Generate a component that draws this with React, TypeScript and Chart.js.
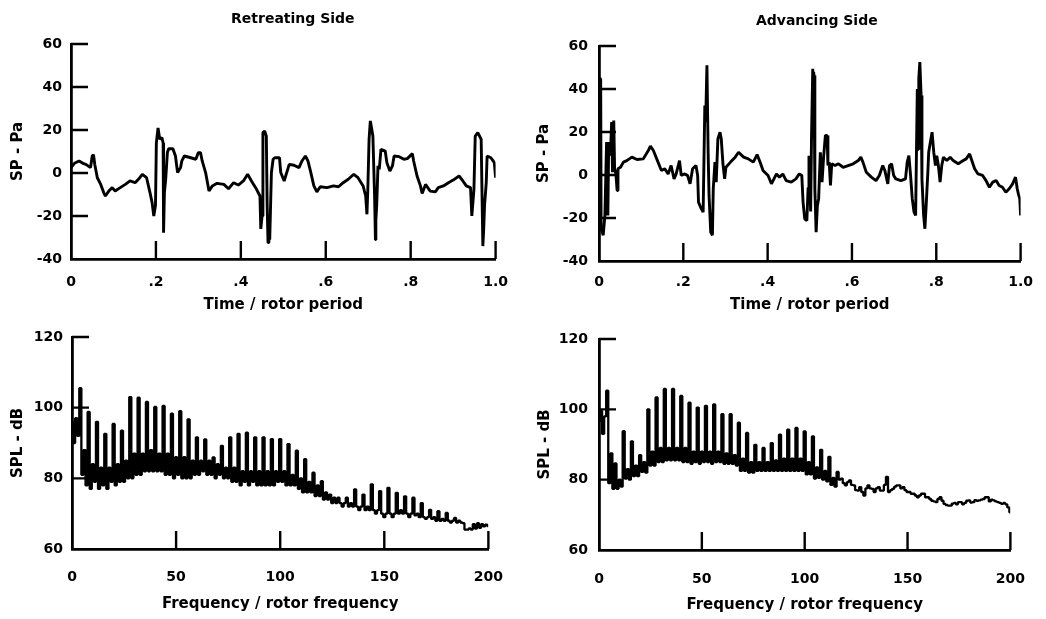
import { useEffect, useRef } from "react";
import { Chart, registerables } from "chart.js";

Chart.register(...registerables);

// ---------- text ----------
const retreatingTitle = "Retreating Side";
const advancingTitle = "Advancing Side";
const timeAxisTitle = "Time / rotor period";
const freqAxisTitle = "Frequency / rotor frequency";
const pressureAxisTitle = "SP - Pa";
const splAxisTitle = "SPL - dB";

// ---------- ticks ----------
const timeTickValues = [0, 0.2, 0.4, 0.6, 0.8, 1.0];
const timeTickLabels = ["0", ".2", ".4", ".6", ".8", "1.0"];
const pressureTickValues = [-40, -20, 0, 20, 40, 60];
const pressureTickLabels = ["-40", "-20", "0", "20", "40", "60"];
const freqTickValues = [0, 50, 100, 150, 200];
const freqTickLabels = ["0", "50", "100", "150", "200"];
const splTickValues = [60, 80, 100, 120];
const splTickLabels = ["60", "80", "100", "120"];

// inner tick marks drawn on the axes
const pressureMarks = [60, 40, 20, 0, -20];
const timeMarks = [0.2, 0.4, 0.6, 0.8, 1.0];
const splMarks = [120, 100, 80];
const freqMarks = [50, 100, 150, 200];

// ---------- data: time history [time / rotor period, SP (Pa)] ----------
const retreatingPressure: [number, number][] = [
  [0, 2.5], [0.008, 4.5], [0.019, 5.6], [0.028, 4.5], [0.035, 4], [0.046, 2.5],
  [0.05, 7.9], [0.053, 8.5], [0.056, 4], [0.062, -2.2], [0.07, -5.3], [0.077, -9.1],
  [0.081, -10.7], [0.089, -8.4], [0.097, -6.8], [0.104, -8.4], [0.116, -6.8], [0.128, -5.3],
  [0.139, -3.7], [0.151, -4.5], [0.162, -2.2], [0.168, -0.6], [0.178, -2.2], [0.186, -9.1],
  [0.191, -13.8], [0.195, -20], [0.199, -15], [0.201, 14], [0.205, 21], [0.209, 15.7],
  [0.214, 16.5], [0.217, 14], [0.218, -27.8], [0.22, -9], [0.223, -3], [0.227, 9.5],
  [0.23, 11.3], [0.24, 11.3], [0.246, 7.9], [0.251, 0.2], [0.258, 2.5], [0.261, 5.6],
  [0.267, 7.9], [0.282, 7.1], [0.294, 6.4], [0.3, 9.5], [0.305, 9.5], [0.309, 5.6],
  [0.317, 0.2], [0.325, -8.4], [0.333, -6], [0.344, -4.8], [0.36, -5.3], [0.371, -7.3],
  [0.383, -4.5], [0.394, -5.6], [0.406, -3.7], [0.416, -0.6], [0.425, -3.7], [0.437, -7.6],
  [0.445, -10.7], [0.447, -26], [0.45, -20], [0.452, 18.8], [0.456, 19.5], [0.46, 17.2],
  [0.462, -15], [0.464, -32.4], [0.466, -25], [0.468, -31], [0.472, 0.2], [0.476, 6.4],
  [0.48, 7.1], [0.491, 7.1], [0.494, 0.2], [0.502, -3.7], [0.514, 4], [0.525, 3.6],
  [0.537, 2.5], [0.544, 5.6], [0.552, 7.9], [0.558, 5.6], [0.564, 0.9], [0.572, -6],
  [0.579, -8.8], [0.587, -6.4], [0.603, -6.8], [0.618, -6], [0.63, -6.4], [0.641, -4.5],
  [0.653, -2.9], [0.666, -0.6], [0.676, -2.2], [0.688, -6], [0.694, -10.7], [0.697, -19.2],
  [0.699, -8], [0.702, 15.7], [0.705, 24.2], [0.711, 17.2], [0.715, -10.7], [0.717, -31],
  [0.718, -22], [0.72, -15], [0.723, 3.3], [0.726, 1.7], [0.73, 11], [0.74, 10.2],
  [0.744, 4.8], [0.751, 0.9], [0.757, 3.3], [0.761, 7.9], [0.773, 7.6], [0.784, 6.4],
  [0.792, 6.7], [0.804, 9], [0.807, 5.6], [0.815, -1.4], [0.823, -6], [0.827, -9.5],
  [0.835, -5.3], [0.846, -8.4], [0.858, -8.8], [0.865, -6.8], [0.877, -6], [0.889, -4.5],
  [0.9, -3.3], [0.914, -1.4], [0.923, -3.7], [0.931, -6], [0.941, -6.8], [0.944, -20],
  [0.949, -7.6], [0.952, 17.2], [0.958, 18.8], [0.966, 15.7], [0.97, -34], [0.972, -26],
  [0.974, -15], [0.978, -4.5], [0.98, 7.9], [0.989, 7.1], [0.997, 4.8], [1.0, -2.2],
];

const advancingPressure: [number, number][] = [
  [0, 45], [0.004, 44.7], [0.005, -25], [0.01, -28], [0.014, -18.8], [0.018, 15.3],
  [0.021, -18.8], [0.023, 15.3], [0.027, 9], [0.03, 24.6], [0.032, 1.3], [0.035, 25.3],
  [0.037, 2.9], [0.04, 0.5], [0.043, -7.2], [0.045, 2.9], [0.051, 3.6], [0.058, 6],
  [0.066, 6.7], [0.078, 8.3], [0.09, 7.2], [0.105, 7.5], [0.117, 11.4], [0.122, 13.4],
  [0.129, 11.4], [0.14, 6], [0.148, 2.1], [0.156, 2.9], [0.164, 0.5], [0.171, 4.4],
  [0.178, -1.8], [0.183, 0.5], [0.191, 6.7], [0.195, -0.2], [0.202, 0.5], [0.21, -0.2],
  [0.216, -4.1], [0.222, 2.9], [0.23, 4.4], [0.234, -0.2], [0.236, -12.6], [0.241, -15],
  [0.247, -17.3], [0.251, 32.3], [0.253, 24.6], [0.256, 51], [0.259, 9], [0.261, -9.5],
  [0.265, -26.6], [0.269, -28], [0.271, -6.4], [0.275, 6], [0.278, -3.3], [0.282, 16.8],
  [0.287, 19.9], [0.29, 16.8], [0.294, 5.2], [0.298, -1.8], [0.301, 3.6], [0.312, 6],
  [0.323, 8.3], [0.331, 10.6], [0.343, 8.3], [0.354, 7.5], [0.366, 6], [0.375, 9.5],
  [0.382, 6], [0.389, 2.1], [0.401, -0.2], [0.409, -4.1], [0.421, 0.5], [0.428, -1],
  [0.436, 0.5], [0.444, -2.6], [0.456, -3.3], [0.467, -1.8], [0.475, 0.5], [0.481, -0.2],
  [0.484, -12.6], [0.488, -20.4], [0.493, -21.2], [0.496, -6], [0.498, 9], [0.502, -17],
  [0.504, 16.8], [0.507, 49.4], [0.508, 20], [0.509, 48], [0.51, 46.3], [0.512, -6.4],
  [0.515, -26.6], [0.518, -14.2], [0.521, -11], [0.525, 10.6], [0.529, -3.3], [0.533, 9],
  [0.537, 18.4], [0.541, 18.4], [0.543, 4.4], [0.546, 6], [0.549, -4.9], [0.552, 5.2],
  [0.56, 4.4], [0.568, 5.2], [0.579, 3.6], [0.591, 4.4], [0.603, 5.2], [0.615, 6.7],
  [0.621, 8.3], [0.626, 6], [0.634, 1.3], [0.646, -1], [0.657, -2.6], [0.665, -0.2],
  [0.673, 4.4], [0.678, 2.1], [0.685, -4.1], [0.689, 4.4], [0.694, 5.2], [0.699, -0.2],
  [0.704, -1.8], [0.716, -2.6], [0.727, -1.8], [0.731, 6], [0.735, 9], [0.739, -0.2],
  [0.743, -11], [0.747, -17], [0.751, -18.8], [0.755, 40], [0.757, 12], [0.758, 42],
  [0.759, 44.7], [0.761, 52.5], [0.764, 37], [0.766, -2], [0.77, -18.8], [0.773, -25],
  [0.776, -14.2], [0.78, 1.3], [0.782, 10.6], [0.786, 15.3], [0.79, 19.9], [0.794, 10.6],
  [0.798, 4.4], [0.801, 9], [0.805, 4.4], [0.809, -3.3], [0.813, 4.4], [0.817, 8.3],
  [0.825, 6.7], [0.833, 8.3], [0.84, 6.7], [0.852, 5.2], [0.864, 6.7], [0.871, 7.5],
  [0.879, 9.8], [0.891, 2.9], [0.899, 0.5], [0.91, -0.2], [0.918, -2.6], [0.926, -5.7],
  [0.934, -3.3], [0.942, -2.6], [0.949, -4.9], [0.957, -5.7], [0.965, -8], [0.973, -6.4],
  [0.981, -4.1], [0.988, -1], [0.992, -6.4], [0.995, -9], [0.998, -11], [1.0, -18.8],
];

// ---------- data: spectra, SPL (dB) at harmonics 0..200 of rotor frequency ----------
const retreatingSpl: number[] = [
  96, 90, 97, 92,
  105.5, 81, 88, 78,
  98.8, 77, 84, 79,
  96, 77, 83, 78,
  92.6, 77, 83, 79,
  95.4, 78, 84, 79,
  93.5, 79, 85, 80,
  103, 80, 87, 81,
  102.8, 81, 87, 82,
  101.6, 82, 88, 82,
  100.2, 82, 87, 82,
  100.5, 81, 87, 81,
  98.3, 80, 86, 81,
  99, 80, 86, 80,
  96.7, 80, 85, 81,
  91.6, 81, 85, 82,
  91, 81, 85, 81,
  85.9, 80, 84, 81,
  89.2, 80, 83, 80,
  91.6, 79, 83, 79,
  92.6, 78, 82, 79,
  92.9, 78, 82, 79,
  91.6, 78, 82, 78,
  91.6, 78, 82, 78,
  91.1, 78, 82, 79,
  91.1, 79, 82, 78,
  89.7, 78, 81, 78,
  87.8, 77, 80, 76,
  85.4, 76, 79, 76,
  81.6, 75, 78, 75,
  79.2, 74, 76, 74,
  75.4, 73, 74.5, 73,
  74.5, 73, 72, 73,
  74.5, 72, 73, 72,
  76.9, 72, 71, 72,
  75.4, 71, 72, 71,
  78.3, 71, 70, 71,
  76.4, 70, 69, 70,
  77.3, 70, 69, 70,
  75.9, 70, 71, 70,
  74.9, 70, 69, 70,
  74.5, 69.5, 70, 69,
  73, 69, 68.5, 69,
  71.1, 68.5, 69, 68,
  70.7, 68, 68.5, 68,
  70.2, 68, 67.5, 68,
  68.8, 67.5, 68, 67.5,
  67.3, 65.5, 65.5, 65.8,
  65.5, 67, 65.8, 67.3,
  66, 67, 66.4, 66.9,
  66.5,
];

const advancingSpl: number[] = [
  96.6, 99.5, 93, 98,
  105.3, 79, 87.5, 77.4,
  84.6, 77.4, 80, 78,
  93.8, 80.3, 83, 80,
  90.9, 81, 84, 81,
  87, 82.2, 85, 82,
  100, 84, 88, 84,
  103.4, 85, 89, 85,
  105.8, 85.5, 89, 85.5,
  105.8, 85.5, 89, 85.5,
  103.8, 85, 89, 85,
  101.9, 84.5, 88, 85,
  100.5, 84.5, 88, 85,
  101, 85, 88, 84.5,
  101.4, 85, 88, 85,
  98.6, 84.5, 87.5, 84.5,
  98.6, 84.5, 87, 84,
  96.2, 82.5, 86, 82.5,
  93.3, 82, 85, 82,
  89.9, 82.5, 85, 82.5,
  89, 82.5, 85, 82.5,
  90.4, 82.5, 85.5, 82.5,
  92.8, 82.5, 86, 82.5,
  94.2, 82.5, 86, 82.5,
  94.7, 82.5, 86, 82.5,
  93.7, 81.5, 85, 81.5,
  92.3, 80.3, 83.5, 80.5,
  88.5, 80, 82.5, 79.5,
  86.5, 78.5, 80.5, 78,
  82.2, 80, 80.3, 79,
  78.4, 79.3, 79.8, 78.5,
  78.4, 77, 76.9, 77.9,
  76.5, 75.5, 77.5, 78.4,
  77.5, 77.4, 76.5, 77.5,
  77.9, 76.9, 76.9, 78.5,
  80.8, 76.5, 77, 77.4,
  78, 78.4, 78.4, 77.5,
  77.9, 77, 76.5, 76.5,
  76, 76, 75.5, 75,
  75.5, 76, 76, 75,
  75, 74.5, 74, 73.8,
  73.6, 74.5, 75, 74,
  73.1, 72.8, 72.6, 72.6,
  73.2, 73.4, 73, 73.6,
  73.6, 73, 73.4, 74,
  74.1, 73.5, 73.6, 74.2,
  74, 74.1, 74.3, 74.5,
  75, 75, 73.8, 74.3,
  74.1, 73.8, 73.6, 73.4,
  73.1, 73.4, 73, 72.1,
  70.7,
];

// ---------- layout ----------
const FONT_FAMILY = "DejaVu Sans";

type Panel = {
  id: string;
  left: number;
  top: number;
  width: number;
  height: number;
  pad: { left: number; right: number; top: number; bottom: number };
  yWidth: number;
  xHeight: number;
  xTickPad: number;
  yTickPad: number;
  xTitlePad: number;
  yTitlePad: number;
  title?: string;
  titleDx?: number;
  titleDy?: number;
  kind: "time" | "freq";
  points: { x: number; y: number }[];
};

const toPoints = (pairs: [number, number][]) => pairs.map(([x, y]) => ({ x, y }));
const spectrumPoints = (vals: number[]) => vals.map((y, i) => ({ x: i, y }));

const panels: Panel[] = [
  {
    id: "tl", left: 0, top: 0, width: 523, height: 314,
    pad: { left: 4, right: 21, top: 44, bottom: 0 },
    yWidth: 67, xHeight: 55, xTickPad: 15, yTickPad: 9, xTitlePad: 0, yTitlePad: 5,
    title: retreatingTitle, titleDx: 9.5, titleDy: 25,
    kind: "time", points: toPoints(retreatingPressure),
  },
  {
    id: "tr", left: 523, top: 0, width: 523, height: 314,
    pad: { left: 4, right: 19, top: 46, bottom: 0 },
    yWidth: 72, xHeight: 53, xTickPad: 13, yTickPad: 11, xTitlePad: 0, yTitlePad: 8,
    title: advancingTitle, titleDx: 7, titleDy: 25,
    kind: "time", points: toPoints(advancingPressure),
  },
  {
    id: "bl", left: 0, top: 314, width: 523, height: 305,
    pad: { left: 4, right: 21, top: 23, bottom: 0 },
    yWidth: 68, xHeight: 70, xTickPad: 20, yTickPad: 9, xTitlePad: 6, yTitlePad: 5,
    kind: "freq", points: spectrumPoints(retreatingSpl),
  },
  {
    id: "br", left: 523, top: 314, width: 523, height: 305,
    pad: { left: 4, right: 19, top: 25, bottom: 0 },
    yWidth: 72, xHeight: 69, xTickPad: 21, yTickPad: 11, xTitlePad: 5, yTitlePad: 9,
    kind: "freq", points: spectrumPoints(advancingSpl),
  },
];

const panelDecor = {
  id: "panelDecor",
  afterDatasetsDraw(chart: any, _args: any, opts: any) {
    const { ctx, chartArea, scales } = chart;
    ctx.save();
    ctx.strokeStyle = "#000";
    ctx.lineWidth = 2.4;
    ctx.beginPath();
    for (const v of opts.yMarks) {
      const py = scales.y.getPixelForValue(v);
      ctx.moveTo(chartArea.left, py);
      ctx.lineTo(chartArea.left + 17, py);
    }
    for (const v of opts.xMarks) {
      const px = scales.x.getPixelForValue(v);
      ctx.moveTo(px, chartArea.bottom);
      ctx.lineTo(px, chartArea.bottom - 18);
    }
    ctx.stroke();
    if (opts.title) {
      ctx.fillStyle = "#000";
      ctx.font = `bold 14px "${FONT_FAMILY}"`;
      ctx.textAlign = "center";
      ctx.textBaseline = "middle";
      ctx.fillText(
        opts.title,
        (chartArea.left + chartArea.right) / 2 + (opts.titleDx || 0),
        chartArea.top - (opts.titleDy || 0)
      );
    }
    ctx.restore();
  },
};

function buildChart(canvas: HTMLCanvasElement, p: Panel) {
  const isTime = p.kind === "time";
  const xVals = isTime ? timeTickValues : freqTickValues;
  const xLabels = isTime ? timeTickLabels : freqTickLabels;
  const yVals = isTime ? pressureTickValues : splTickValues;
  const yLabels = isTime ? pressureTickLabels : splTickLabels;
  const tickFont = { family: FONT_FAMILY, size: 14, weight: "bold" as const };
  const titleFont = { family: FONT_FAMILY, size: 15, weight: "bold" as const };

  return new Chart(canvas, {
    type: "line",
    data: {
      datasets: [
        {
          data: p.points,
          borderColor: "#000",
          borderWidth: isTime ? 2.9 : 2.3,
          borderJoinStyle: "bevel",
          pointRadius: 0,
          tension: 0,
          stepped: isTime ? false : "middle",
          fill: false,
        },
      ],
    },
    options: {
      animation: false,
      responsive: false,
      maintainAspectRatio: false,
      devicePixelRatio: 1,
      layout: { padding: p.pad },
      plugins: {
        legend: { display: false },
        tooltip: { enabled: false },
        title: { display: false },
        panelDecor: {
          yMarks: isTime ? pressureMarks : splMarks,
          xMarks: isTime ? timeMarks : freqMarks,
          title: p.title,
          titleDx: p.titleDx,
          titleDy: p.titleDy,
        },
      } as any,
      scales: {
        x: {
          type: "linear",
          min: xVals[0],
          max: xVals[xVals.length - 1],
          afterBuildTicks: (scale: any) => {
            scale.ticks = xVals.map((v) => ({ value: v }));
          },
          afterFit: (scale: any) => {
            scale.height = p.xHeight;
          },
          grid: { display: true, drawOnChartArea: false, drawTicks: false },
          border: { display: true, color: "#000", width: 2.8 },
          ticks: {
            autoSkip: false,
            maxRotation: 0,
            minRotation: 0,
            padding: p.xTickPad,
            color: "#000",
            font: tickFont,
            callback: (_v: any, i: number) => xLabels[i],
          },
          title: {
            display: true,
            text: isTime ? timeAxisTitle : freqAxisTitle,
            color: "#000",
            font: titleFont,
            padding: { top: 0, bottom: p.xTitlePad },
          },
        },
        y: {
          type: "linear",
          min: yVals[0],
          max: yVals[yVals.length - 1],
          afterBuildTicks: (scale: any) => {
            scale.ticks = yVals.map((v) => ({ value: v }));
          },
          afterFit: (scale: any) => {
            scale.width = p.yWidth;
          },
          grid: { display: true, drawOnChartArea: false, drawTicks: false },
          border: { display: true, color: "#000", width: 2.8 },
          ticks: {
            autoSkip: false,
            padding: p.yTickPad,
            color: "#000",
            font: tickFont,
            callback: (_v: any, i: number) => yLabels[i],
          },
          title: {
            display: true,
            text: isTime ? pressureAxisTitle : splAxisTitle,
            color: "#000",
            font: titleFont,
            padding: { top: p.yTitlePad, bottom: 0 },
          },
        },
      },
    },
    plugins: [panelDecor],
  } as any);
}

export default function App() {
  const refs = useRef<(HTMLCanvasElement | null)[]>([]);

  useEffect(() => {
    const charts: Chart[] = [];
    panels.forEach((p, i) => {
      const c = refs.current[i];
      if (c) charts.push(buildChart(c, p));
    });
    return () => {
      charts.forEach((c) => c.destroy());
    };
  }, []);

  return (
    <div
      style={{
        position: "absolute",
        left: 0,
        top: 0,
        width: 1046,
        height: 619,
        background: "#fff",
        overflow: "hidden",
      }}
    >
      {panels.map((p, i) => (
        <canvas
          key={p.id}
          ref={(el) => {
            refs.current[i] = el;
          }}
          width={p.width}
          height={p.height}
          style={{
            position: "absolute",
            left: p.left,
            top: p.top,
            width: p.width,
            height: p.height,
          }}
        />
      ))}
    </div>
  );
}
